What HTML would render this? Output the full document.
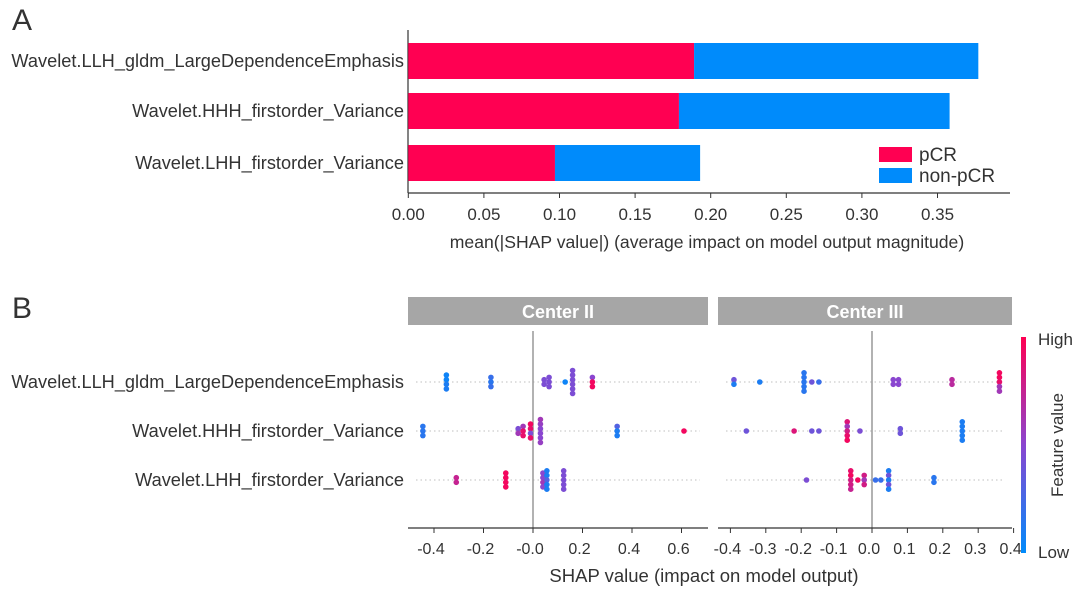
<!DOCTYPE html>
<html><head><meta charset="utf-8"><style>
body{margin:0;background:#fff;}
svg text{font-family:"Liberation Sans",Arial,sans-serif;fill:#333;}
</style></head><body>
<svg id="fig" width="1080" height="591" viewBox="0 0 1080 591" xmlns="http://www.w3.org/2000/svg">
<defs><linearGradient id="cb" x1="0" y1="1" x2="0" y2="0"><stop offset="0" stop-color="#008bfb"/><stop offset="0.5" stop-color="#8a46d0"/><stop offset="1" stop-color="#ff0052"/></linearGradient></defs>
<text x="12" y="30" font-size="30">A</text>
<text x="12" y="318" font-size="30">B</text>
<g id="A"></g><g id="B"></g>
</svg>
<script>
const features=["Wavelet.LLH_gldm_LargeDependenceEmphasis","Wavelet.HHH_firstorder_Variance","Wavelet.LHH_firstorder_Variance"];
const pcrValues=[0.189,0.179,0.097];
const nonPcrValues=[0.188,0.179,0.096];
const aTicks=[0,0.05,0.10,0.15,0.20,0.25,0.30,0.35];
const aTickLabels=["0.00","0.05","0.10","0.15","0.20","0.25","0.30","0.35"];
// Center II beeswarm groups: [shap value, feature values of stacked dots]
const c2Row1=[[-0.35,[0.05,0.05,0.1,0.1]],[-0.17,[0.2,0.15,0.2]],[0.045,[0.45,0.45]],[0.065,[0.45,0.45,0.45]],[0.13,[0.05]],[0.16,[0.45,0.45,0.45,0.45,0.45,0.45]],[0.24,[0.5,0.95,0.95]]];
const c2Row2=[[-0.445,[0.15,0.15,0.15]],[-0.06,[0.45,0.6]],[-0.04,[0.6,0.9,0.9]],[-0.01,[0.95,0.9,0.45,0.9]],[0.03,[0.6,0.55,0.5,0.5,0.5,0.55]],[0.34,[0.3,0.1,0.1]],[0.61,[0.95]]];
const c2Row3=[[-0.31,[0.75,0.75]],[-0.11,[0.95,0.95,0.95,0.95]],[0.04,[0.5,0.5,0.6,0.5]],[0.056,[0.1,0.1,0.3,0.1,0.1]],[0.124,[0.45,0.45,0.45,0.45,0.45]]];
const c3Row1=[[-0.39,[0.4,0.1]],[-0.317,[0.1]],[-0.192,[0.15,0.15,0.15,0.15,0.15]],[-0.17,[0.4]],[-0.15,[0.2]],[0.06,[0.5,0.5]],[0.075,[0.5,0.5]],[0.226,[0.7,0.7]],[0.36,[0.95,0.95,0.9,0.6,0.6]]];
const c3Row2=[[-0.355,[0.4]],[-0.22,[0.85]],[-0.17,[0.4]],[-0.15,[0.4]],[-0.07,[0.85,0.6,0.8,0.9,0.95]],[-0.034,[0.45]],[0.08,[0.4,0.4]],[0.255,[0.1,0.1,0.1,0.1,0.1]]];
const c3Row3=[[-0.185,[0.45]],[-0.06,[0.9,0.95,0.8,0.8,0.75]],[-0.04,[0.95]],[-0.022,[0.8,0.6,0.8]],[0.01,[0.2]],[0.025,[0.2]],[0.047,[0.1,0.4,0.1,0.4,0.1]],[0.175,[0.15,0.15]]];
const bTicks2=[-0.4,-0.2,0,0.2,0.4,0.6];
const bTickLabels2=["-0.4","-0.2","-0.0","0.2","0.4","0.6"];
const bTicks3=[-0.4,-0.3,-0.2,-0.1,0,0.1,0.2,0.3,0.4];
const bTickLabels3=["-0.4","-0.3","-0.2","-0.1","0.0","0.1","0.2","0.3","0.4"];

const NS="http://www.w3.org/2000/svg";
function mk(parent,tag,attrs,text){const e=document.createElementNS(NS,tag);for(const k in attrs)e.setAttribute(k,attrs[k]);if(text!==undefined)e.textContent=text;parent.appendChild(e);return e;}
function col(t){const s=[[0,139,251],[138,70,208],[255,0,82]];let a,b,u;if(t<0.5){a=s[0];b=s[1];u=t/0.5;}else{a=s[1];b=s[2];u=(t-0.5)/0.5;}return `rgb(${a.map((v,i)=>Math.round(v+(b[i]-v)*u)).join(',')})`;}

// Panel A
const gA=document.getElementById('A');
const xA=v=>408.3+v*1512;
const rowA=[43,93,145],barH=36;
mk(gA,'line',{x1:408,y1:30,x2:408,y2:193,stroke:'#333','stroke-width':1.2});
mk(gA,'line',{x1:408,y1:193,x2:1010,y2:193,stroke:'#333','stroke-width':1.2});
features.forEach((f,i)=>{
 let r=mk(gA,'rect',{x:xA(0),y:rowA[i],width:xA(pcrValues[i])-xA(0),height:barH,fill:'#ff0052'});
 
 r=mk(gA,'rect',{x:xA(pcrValues[i]),y:rowA[i],width:xA(pcrValues[i]+nonPcrValues[i])-xA(pcrValues[i]),height:barH,fill:'#008bfb'});
 
 const t=mk(gA,'text',{x:404,y:rowA[i]+barH/2+6,'font-size':18.2,'text-anchor':'end'},f);
 
});
aTicks.forEach((v,i)=>{
 mk(gA,'line',{x1:xA(v),y1:193,x2:xA(v),y2:198,stroke:'#333'});
 const t=mk(gA,'text',{x:xA(v),y:220,'font-size':17,'text-anchor':'middle'},aTickLabels[i]);
 
});
let tt=mk(gA,'text',{x:707,y:248,'font-size':17.6,'text-anchor':'middle'},'mean(|SHAP value|) (average impact on model output magnitude)');

let lg=mk(gA,'g',{});
mk(lg,'rect',{x:879,y:147,width:33,height:15,fill:'#ff0052'});
mk(lg,'rect',{x:879,y:168,width:33,height:15,fill:'#008bfb'});
mk(lg,'text',{x:919,y:161,'font-size':19},'pCR');
mk(lg,'text',{x:919,y:182,'font-size':19},'non-pCR');

// Panel B
const gB=document.getElementById('B');
const rowB=[382,431,480];
function panel(name,x0,x1,scale,ticks,labels,rows){
 const g=mk(gB,'g',{});
 mk(g,'rect',{x:x0,y:297,width:x1-x0,height:28,fill:'#a6a6a6'});
 mk(g,'text',{x:(x0+x1)/2,y:318,'font-size':18,'font-weight':'bold','text-anchor':'middle',style:'fill:#fff'},name);
 rowB.forEach(y=>mk(g,'line',{x1:x0+8,y1:y,x2:x1-8,y2:y,stroke:'#ccc','stroke-dasharray':'1.5,3','stroke-width':1.2}));
 mk(g,'line',{x1:scale(0),y1:331,x2:scale(0),y2:528,stroke:'#999','stroke-width':1.5});
 mk(g,'line',{x1:x0,y1:528,x2:x1,y2:528,stroke:'#333','stroke-width':1.2});
 ticks.forEach((v,i)=>{mk(g,'line',{x1:scale(v),y1:528,x2:scale(v),y2:533,stroke:'#333'});
  const t=mk(g,'text',{x:scale(v)-3,y:554,'font-size':16,'text-anchor':'middle'},labels[i]);
  });
 rows.forEach((groups,ri)=>groups.forEach(([v,fv])=>{
  const n=fv.length;fv.forEach((c,k)=>{
   const d=mk(g,'circle',{cx:scale(v),cy:rowB[ri]+(k-(n-1)/2)*4.6,r:2.8,fill:col(c)});
   });
 }));
}
panel('Center II',408,708,v=>533+v*247.5,bTicks2,bTickLabels2,[c2Row1,c2Row2,c2Row3]);
panel('Center III',718,1012,v=>872+v*354,bTicks3,bTickLabels3,[c3Row1,c3Row2,c3Row3]);
features.forEach((f,i)=>{const t=mk(gB,'text',{x:404,y:rowB[i]+6,'font-size':18.2,'text-anchor':'end'},f);
 });
tt=mk(gB,'text',{x:704,y:582,'font-size':18.5,'text-anchor':'middle'},'SHAP value (impact on model output)');

const cbar=mk(gB,'rect',{x:1021,y:337,width:5,height:216,fill:'url(#cb)'});

mk(gB,'text',{x:1038,y:345,'font-size':17},'High');
mk(gB,'text',{x:1038,y:558,'font-size':17},'Low');
mk(gB,'text',{x:1063,y:445,'font-size':17,'text-anchor':'middle',transform:'rotate(-90 1063 445)'},'Feature value');
</script>
</body></html>
